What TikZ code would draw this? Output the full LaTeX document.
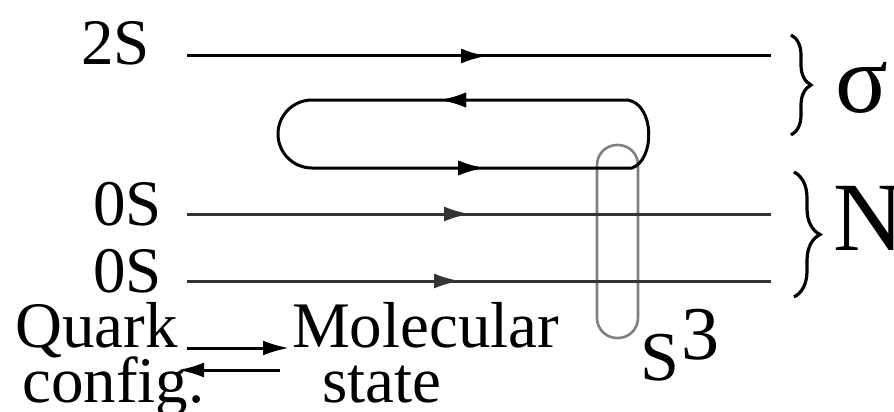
\documentclass[tikz,border=0pt]{standalone}
\usepackage{fontspec}
\setmainfont{Liberation Serif}
\usetikzlibrary{arrows.meta,decorations.markings,decorations.pathreplacing}
\begin{document}
\begin{tikzpicture}[x=1pt,y=-1pt,
  lab/.style={inner sep=0pt,font=\fontsize{65}{70}\selectfont},
  big/.style={inner sep=0pt,font=\fontsize{98}{100}\selectfont},
  tipstyle/.style={-{Latex[length=26pt,width=15pt]}},
  level/.style={line width=3pt},
  marr/.style={postaction={decorate},decoration={markings,
     mark=at position #1 with {\arrow{Latex[length=26pt,width=15pt]}}}},
  bracestyle/.style={line width=3.2pt,decorate,decoration={brace,amplitude=#1}},
  sloop/.style={line width=2.6pt,draw=black!50,rounded corners=20pt}]
\useasboundingbox (0,0) rectangle (894,412);
\fill[white] (0,0) rectangle (894,412);

% S^3 loop (behind)
\draw[sloop] (597,145) rectangle (638,338);

% coordinates
\coordinate (a1) at (187,56);  \coordinate (a2) at (771,56);
\coordinate (b1) at (187,214); \coordinate (b2) at (771,214);
\coordinate (c1) at (187,281); \coordinate (c2) at (771,281);

% level lines
\draw[level,marr=300pt] (a1) -- (a2);
\draw[level,draw=black!80,marr=283pt] (b1) -- (b2);
\draw[level,draw=black!80,marr=273pt] (c1) -- (c2);

% loop
\coordinate (lt) at (628,100);
\draw[level,marr=188pt,marr=595pt]
  (lt) -- (312,100) arc[start angle=270,end angle=90,radius=34]
  -- (632,168) .. controls (655,160) and (655,105) .. (lt);

% labels
\node[lab,anchor=base east] (l2s) at (150,65) {2S};
\node[lab,anchor=base east] (l0a) at (162,225) {0S};
\node[lab,anchor=base east] (l0b) at (162,292) {0S};
\node[lab,anchor=base west] (quark) at (15,347) {Quark};
\node[lab,anchor=base west] (config) at (22,402) {config.};
\node[lab,anchor=base west] (mol) at (292,347) {Molecular};
\node[lab,anchor=base west] (state) at (322,402) {state};

% braces
\draw[bracestyle=20pt] (791,35) -- (791,135);
\draw[bracestyle=26pt] (794,172) -- (794,297);
\node[big,anchor=base west] (sig) at (835,112) {σ};
\node[big,anchor=base west] (nn) at (833,250) {N};

% S^3
\node[inner sep=0pt,font=\fontsize{70}{72}\selectfont,anchor=base west] (sS) at (640,380) {S};
\node[inner sep=0pt,font=\fontsize{76}{78}\selectfont,anchor=base west] (s3) at (681,359) {3};

% quark <-> molecular arrows
\coordinate (q1) at (187,348); \coordinate (q2) at (289,348);
\coordinate (m1) at (280,370); \coordinate (m2) at (178,370);
\draw[line width=3pt,tipstyle] (q1) -- (q2);
\draw[line width=3pt,tipstyle] (m1) -- (m2);
\end{tikzpicture}
\end{document}
